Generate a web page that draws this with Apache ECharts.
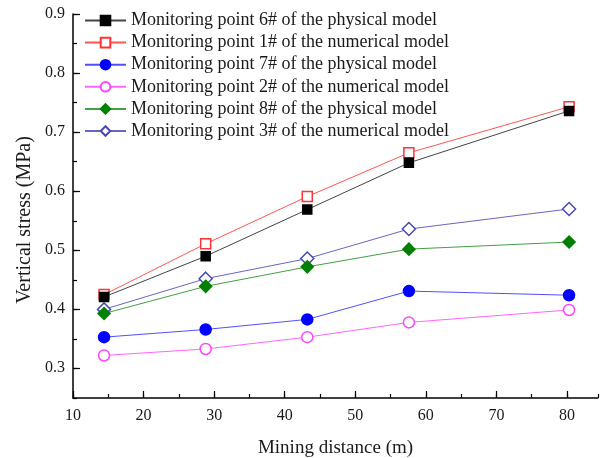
<!DOCTYPE html>
<html>
<head>
<meta charset="utf-8">
<script src="https://cdn.jsdelivr.net/npm/echarts@6/dist/echarts.min.js"></script>
<style>
html,body{margin:0;padding:0;background:#fff;}
#c{width:604px;height:458px;}
</style>
</head>
<body>
<div id="c"></div>
<script>
var miningDistance = [14.4, 28.8, 43.2, 57.6, 80.3];
var seriesNames = [
  'Monitoring point 6# of the physical model',
  'Monitoring point 1# of the numerical model',
  'Monitoring point 7# of the physical model',
  'Monitoring point 2# of the numerical model',
  'Monitoring point 8# of the physical model',
  'Monitoring point 3# of the numerical model'
];
var point6Physical = [0.421, 0.490, 0.569, 0.648, 0.736];
var point1Numerical = [0.425, 0.511, 0.591, 0.665, 0.743];
var point7Physical = [0.353, 0.366, 0.383, 0.431, 0.424];
var point2Numerical = [0.322, 0.333, 0.353, 0.378, 0.399];
var point8Physical = [0.393, 0.439, 0.472, 0.502, 0.514];
var point3Numerical = [0.400, 0.452, 0.486, 0.536, 0.570];
var xTickLabels = [10, 20, 30, 40, 50, 60, 70, 80];
var yTickLabels = [0.3, 0.4, 0.5, 0.6, 0.7, 0.8, 0.9];

var FONT = '"Liberation Serif","Times New Roman",serif';
function pairs(v){ return miningDistance.map(function(x,i){ return [x, v[i]]; }); }

var styles = [
  {line:'#444444', color:'#000000', fill:'#000000', symbol:'rect', size:9},
  {line:'#ff5555', color:'#ff3333', fill:'#ffffff', symbol:'rect', size:10},
  {line:'#5050ff', color:'#0000ff', fill:'#0000ff', symbol:'circle', size:11},
  {line:'#ff66ff', color:'#ff44ff', fill:'#ffffff', symbol:'circle', size:11},
  {line:'#44a044', color:'#008000', fill:'#008000', symbol:'diamond', size:12},
  {line:'#6666c4', color:'#4848b8', fill:'#ffffff', symbol:'diamond', size:13}
];
var values = [point6Physical, point1Numerical, point7Physical, point2Numerical, point8Physical, point3Numerical];

var series = values.map(function(v, i){
  var s = styles[i];
  return {
    name: seriesNames[i],
    type: 'line',
    xAxisIndex: 0, yAxisIndex: 0,
    data: pairs(v),
    symbol: s.symbol,
    symbolSize: s.size,
    showAllSymbol: true,
    lineStyle: {color: s.line, width: 1},
    itemStyle: {color: s.fill, borderColor: s.color, borderWidth: 1.5},
    z: 10 - i
  };
});

var chart = echarts.init(document.getElementById('c'), null, {renderer:'canvas'});
chart.setOption({
  animation: false,
  backgroundColor: '#ffffff',
  textStyle: {fontFamily: FONT},
  legend: {
    left: 79, top: 6.5,
    orient: 'vertical',
    itemWidth: 41, itemHeight: 12, itemGap: 4.1,
    textStyle: {fontFamily: FONT, fontSize: 18, color: '#1a1a1a'},
    data: seriesNames
  },
  grid: [
    {left: 73, right: 6, top: 14, bottom: 60, outerBoundsMode: 'none', containLabel: false},
    {left: 73, right: 37, top: 14, bottom: 60, outerBoundsMode: 'none', containLabel: false},
    {left: 73, right: 6, top: 14, bottom: 90, outerBoundsMode: 'none', containLabel: false}
  ],
  xAxis: [
    {gridIndex: 0, type: 'value', min: 10, max: 84.4, interval: 5,
     axisLine: {lineStyle: {color: '#000', width: 1.5}},
     axisTick: {inside: true, length: 4, lineStyle: {color: '#000', width: 1.2}},
     axisLabel: {show: false}, splitLine: {show: false},
     name: 'Mining distance (m)', nameLocation: 'middle', nameGap: 41,
     nameTextStyle: {fontFamily: FONT, fontSize: 19, color: '#1a1a1a'}},
    {gridIndex: 1, type: 'value', min: 10, max: 80, interval: 10,
     axisLine: {show: false},
     axisTick: {inside: true, length: 7, lineStyle: {color: '#000', width: 1.2}},
     axisLabel: {fontFamily: FONT, fontSize: 16, color: '#1a1a1a', margin: 10,
                 formatter: function(v){ return xTickLabels.indexOf(v) >= 0 ? String(v) : ''; }},
     splitLine: {show: false}},
    {gridIndex: 2, type: 'value', show: false, min: 0, max: 1}
  ],
  yAxis: [
    {gridIndex: 0, type: 'value', min: 0.25, max: 0.9, interval: 0.05,
     axisLine: {show: true, lineStyle: {color: '#000', width: 1.5}},
     axisTick: {show: true, inside: true, length: 4, lineStyle: {color: '#000', width: 1.2}},
     axisLabel: {show: false}, splitLine: {show: false},
     name: 'Vertical stress (MPa)', nameLocation: 'middle', nameGap: 38,
     nameTextStyle: {fontFamily: FONT, fontSize: 20, color: '#1a1a1a', padding: [0, 28, 0, 0]}},
    {gridIndex: 1, type: 'value', show: false, min: 0, max: 1},
    {gridIndex: 2, type: 'value', min: 0.3, max: 0.9, interval: 0.1,
     axisLine: {show: false},
     axisTick: {show: true, inside: true, length: 7, lineStyle: {color: '#000', width: 1.2}},
     axisLabel: {fontFamily: FONT, fontSize: 16, color: '#1a1a1a', margin: 8,
                 formatter: function(v){
                   var r = Math.round(v*10)/10;
                   return yTickLabels.indexOf(r) >= 0 ? r.toFixed(1) : '';
                 }},
     splitLine: {show: false}}
  ],
  series: series
});
</script>
</body>
</html>
